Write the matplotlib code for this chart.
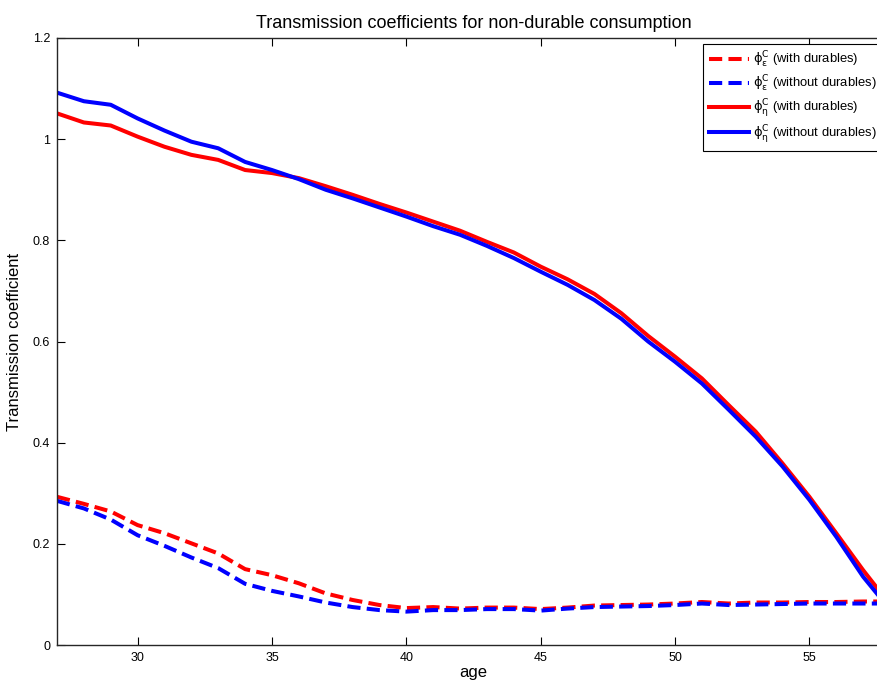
import matplotlib
matplotlib.use("Agg")
import matplotlib.pyplot as plt
from matplotlib.ticker import FixedLocator, FixedFormatter

plt.rcParams['font.family'] = ['Liberation Sans', 'DejaVu Sans']
plt.rcParams['mathtext.fontset'] = 'custom'
plt.rcParams['mathtext.rm'] = 'DejaVu Sans'
plt.rcParams['mathtext.it'] = 'DejaVu Sans'
plt.rcParams['lines.scale_dashes'] = False

age = list(range(27, 59))

# transitory shock (epsilon)
eps_with = [0.293, 0.279, 0.264, 0.237, 0.221, 0.201, 0.181, 0.150, 0.138, 0.122,
            0.102, 0.089, 0.079, 0.073, 0.075, 0.072, 0.074, 0.074, 0.071, 0.074,
            0.078, 0.079, 0.080, 0.082, 0.085, 0.082, 0.084, 0.084, 0.085, 0.085,
            0.086, 0.086]
eps_without = [0.285, 0.270, 0.248, 0.217, 0.196, 0.173, 0.152, 0.121, 0.107, 0.096,
               0.084, 0.075, 0.069, 0.066, 0.069, 0.069, 0.071, 0.071, 0.068, 0.072,
               0.075, 0.076, 0.077, 0.079, 0.082, 0.079, 0.080, 0.081, 0.082, 0.082,
               0.082, 0.082]

# permanent shock (eta)
eta_with = [1.051, 1.033, 1.027, 1.005, 0.985, 0.969, 0.959, 0.939, 0.933, 0.923,
            0.907, 0.890, 0.872, 0.855, 0.837, 0.819, 0.797, 0.776, 0.748, 0.723,
            0.694, 0.656, 0.611, 0.570, 0.527, 0.474, 0.422, 0.359, 0.293, 0.221,
            0.148, 0.080]
eta_without = [1.092, 1.075, 1.068, 1.041, 1.017, 0.995, 0.982, 0.955, 0.939, 0.921,
               0.900, 0.883, 0.865, 0.847, 0.828, 0.811, 0.789, 0.765, 0.738, 0.712,
               0.682, 0.645, 0.600, 0.560, 0.517, 0.465, 0.412, 0.353, 0.287, 0.214,
               0.135, 0.070]

labels = [r'$\mathrm{ϕ}^{\mathrm{C}}_{\mathrm{ε}}$ (with durables)',
          r'$\mathrm{ϕ}^{\mathrm{C}}_{\mathrm{ε}}$ (without durables)',
          r'$\mathrm{ϕ}^{\mathrm{C}}_{\mathrm{η}}$ (with durables)',
          r'$\mathrm{ϕ}^{\mathrm{C}}_{\mathrm{η}}$ (without durables)']

xticks = [30, 35, 40, 45, 50, 55]
yticks = [0, 0.2, 0.4, 0.6, 0.8, 1.0, 1.2]
ytick_labels = ['0', '0.2', '0.4', '0.6', '0.8', '1', '1.2']

fig = plt.figure(figsize=(8.78, 6.85), dpi=100)
ax = fig.add_axes([57 / 878, 40 / 685, 833 / 878, 607 / 685])

lw = 2.9
dash = (9.5, 4.5)
ax.plot(age, eps_with, color='#ff0000', lw=lw, dashes=dash, label=labels[0])
ax.plot(age, eps_without, color='#0000ff', lw=lw, dashes=dash, label=labels[1])
ax.plot(age, eta_with, color='#ff0000', lw=lw, label=labels[2])
ax.plot(age, eta_without, color='#0000ff', lw=lw, label=labels[3])

ax.set_xlim(27, 58)
ax.set_ylim(0, 1.2)
ax.xaxis.set_major_locator(FixedLocator(xticks))
ax.yaxis.set_major_locator(FixedLocator(yticks))
ax.yaxis.set_major_formatter(FixedFormatter(ytick_labels))
ax.tick_params(direction='in', length=6, width=0.8, top=True, right=True,
               labelsize=9, colors='#000000', pad=5)
for sp in ax.spines.values():
    sp.set_color('#262626')
    sp.set_linewidth(1.0)

ax.set_title('Transmission coefficients for non-durable consumption', fontsize=13, pad=7)
ax.set_xlabel('age', fontsize=12, labelpad=1)
ax.set_ylabel('Transmission coefficient', fontsize=12, labelpad=8)

leg = ax.legend(loc='upper left', bbox_to_anchor=(0.7755, 0.990), fontsize=9.4,
                handlelength=3.1, handletextpad=0.3, borderpad=0.45,
                labelspacing=0.28, fancybox=False, framealpha=1,
                edgecolor='#000000', borderaxespad=0)
leg.get_frame().set_linewidth(0.8)

fig.savefig('out.png', dpi=100)
